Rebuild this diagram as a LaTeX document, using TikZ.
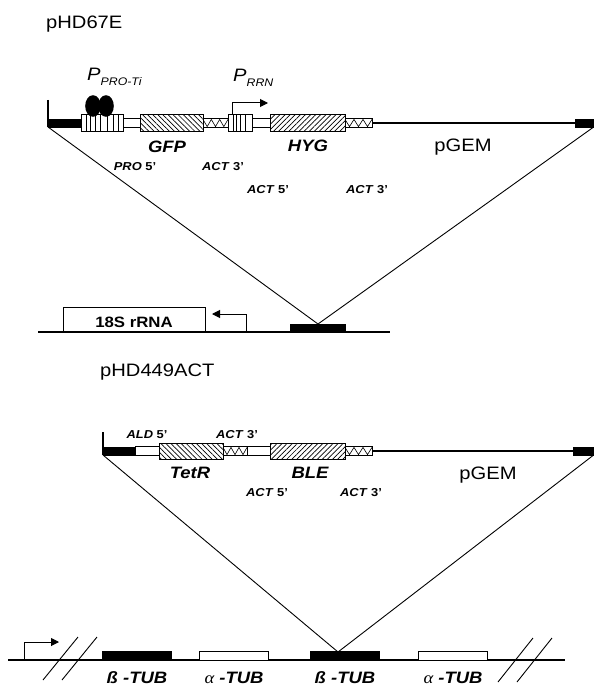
\documentclass[tikz,border=0pt]{standalone}
\usepackage{fontspec}
\setmainfont{Liberation Sans}[FakeStretch=1.12]
\newfontfamily\greekfont{Liberation Serif}[FakeStretch=1.12]
\usetikzlibrary{patterns.meta,arrows.meta}

% a box drawn from a left x to a right x, centred on a given y
\newcommand\segbox[5]{%
  \node[#1, anchor=west, minimum width={(#4)-(#3)}] (#2) at (#3,#5) {};}
% a narrow box with a zigzag inside (3' / 5' flanking regions)
\newcommand\zigbox[4]{%
  \segbox{whitebox}{#1}{#2}{#3}{#4}
  \draw[line width=0.6pt] (#2,#4-3.6)
    \foreach \k in {1,...,6}{ -- ({#2+\k*(#3-#2)/6},{#4+3.6*(2*mod(\k,2)-1)}) };}
% a promoter box with vertical stripes
\newcommand\stripebox[5]{%
  \segbox{promoter}{#1}{#2}{#3}{#4}
  \foreach \s in {#5} \draw[line width=0.8pt] (\s,#4-8) -- (\s,#4+8);}

\begin{document}
\begin{tikzpicture}[x=1pt,y=-1pt,
  dna/.style={line width=1.4pt},
  arm/.style={line width=0.9pt},
  blackbar/.style={draw, fill=black, inner sep=0pt, minimum height=8pt, line width=0.4pt},
  whitebox/.style={draw, fill=white, inner sep=0pt, minimum height=9pt, line width=1pt},
  promoter/.style={draw, fill=white, inner sep=0pt, minimum height=16pt, line width=1pt},
  geneback/.style={draw, inner sep=0pt, minimum height=16pt, line width=1pt,
    preaction={fill=white}, pattern={Lines[angle=-45,distance=3.6pt,line width=0.7pt]}},
  genefore/.style={draw, inner sep=0pt, minimum height=16pt, line width=1pt,
    preaction={fill=white}, pattern={Lines[angle=45,distance=3.6pt,line width=0.7pt]}},
  tubb/.style={draw, fill=black, inner sep=0pt, minimum height=9pt, line width=1pt},
  tuba/.style={draw, fill=white, inner sep=0pt, minimum height=9pt, line width=1pt},
  title/.style={anchor=base west, inner sep=0pt, font=\fontsize{18}{20}\selectfont},
  gene/.style={anchor=base, inner sep=0pt, font=\fontsize{16.5}{18}\selectfont\bfseries\itshape},
  small/.style={anchor=base, inner sep=0pt, font=\fontsize{11.5}{13}\selectfont\bfseries},
  prom/.style={anchor=base west, inner sep=0pt, font=\fontsize{18}{20}\selectfont\itshape},
  tip/.style={-{Triangle[length=8pt,width=8pt]}, line width=1pt},
  brk/.style={line width=0.9pt}
]
\useasboundingbox (0,0) rectangle (595,690);

% ---------------- pHD67E ----------------
\node[title] (t1) at (46,29) {pHD67E};

\coordinate (a0) at (48,100);
\coordinate (a1) at (48,127);
\draw[dna] (a0) -- (a1);
\segbox{blackbar}{aL}{48}{81}{123}
\stripebox{pti}{81}{123}{123}{86,90.5,95,100.5,107.5,113,118}
\fill (93,106) ellipse [x radius=7.8, y radius=10.8];
\fill (106,106) ellipse [x radius=7.8, y radius=10.8];
\segbox{whitebox}{w1}{123}{140}{123}
\segbox{geneback}{gfp}{140}{203}{123}
\zigbox{z1}{203}{228}{123}
\stripebox{prrn}{228}{252}{123}{233.3,236.8,240.7,245}
\segbox{whitebox}{w2}{252}{270}{123}
\segbox{genefore}{hyg}{270}{345}{123}
\zigbox{z2}{345}{372}{123}
\segbox{blackbar}{aR}{575}{593}{123}
\draw[dna] (z2.east) -- (aR.west);

% promoter arrow
\coordinate (r0) at (232,103);
\coordinate (r1) at (268,103);
\draw[tip] (prrn.north west -| r0) -- (r0) -- (r1);

% labels
\node[prom] (lp1) at (87,81) {P\raisebox{-5pt}{\fontsize{11}{12}\selectfont PRO-Ti}};
\node[prom] (lp2) at (233,82) {P\raisebox{-5pt}{\fontsize{11}{12}\selectfont RRN}};
\node[gene] at (167,152) {GFP};
\node[gene] at (308,151) {HYG};
\node[title, anchor=base] at (463,151) {pGEM};
\node[small] at (135,170) {\textit{PRO} 5'};
\node[small] at (223,170) {\textit{ACT} 3'};
\node[small] at (268,193) {\textit{ACT} 5'};
\node[small] at (367,193) {\textit{ACT} 3'};

% 18S rRNA locus
\coordinate (g0) at (38,332);
\coordinate (g1) at (390,332);
\draw[dna] (g0) -- (g1);
\node[draw, fill=white, line width=1pt, inner sep=0pt, minimum width=142pt, minimum height=24pt, anchor=south west] (rrna) at (63,332) {};
\node[anchor=base, inner sep=0pt, font=\fontsize{15}{17}\selectfont\bfseries] at (134,327) {18S rRNA};
\node[blackbar, anchor=south west, minimum width=55pt] (site1) at (290,332) {};
\coordinate (q0) at (246,332);
\coordinate (q1) at (246,314);
\coordinate (q2) at (212,314);
\draw[tip] (q0) -- (q1) -- (q2);
\coordinate (apex1) at (318,324);
\draw[arm] (a1) -- (apex1) -- (aR.south east);

% ---------------- pHD449ACT ----------------
\node[title] (t2) at (100,376) {pHD449ACT};

\coordinate (b0) at (103,432);
\coordinate (b1) at (103,455);
\draw[dna] (b0) -- (b1);
\segbox{blackbar}{bL}{103}{135}{451}
\segbox{whitebox}{w3}{135}{159}{451}
\segbox{geneback}{tetr}{159}{223}{451}
\zigbox{z3}{223}{247}{451}
\segbox{whitebox}{w4}{247}{270}{451}
\segbox{genefore}{ble}{270}{345}{451}
\zigbox{z4}{345}{372}{451}
\segbox{blackbar}{bR}{573}{593}{451}
\draw[dna] (z4.east) -- (bR.west);

\node[small] at (147,438) {\textit{ALD} 5'};
\node[small] at (237,438) {\textit{ACT} 3'};
\node[gene] at (190,478) {TetR};
\node[gene] at (310,478) {BLE};
\node[title, anchor=base] at (488,479) {pGEM};
\node[small] at (267,496) {\textit{ACT} 5'};
\node[small] at (361,496) {\textit{ACT} 3'};

% tubulin locus
\coordinate (h0) at (8,660);
\coordinate (h1) at (565,660);
\draw[dna] (h0) -- (h1);
\coordinate (s0) at (24,660);
\coordinate (s1) at (24,642);
\coordinate (s2) at (59,642);
\draw[tip] (s0) -- (s1) -- (s2);
\draw[brk] (43,680) -- (78,637);
\draw[brk] (62,680) -- (97,637);
\draw[brk] (498,682) -- (533,638);
\draw[brk] (517,682) -- (552,638);
\node[tubb, anchor=south west, minimum width=69pt] (bt1) at (102,661) {};
\node[tuba, anchor=south west, minimum width=69pt] (at1) at (199,661) {};
\node[tubb, anchor=south west, minimum width=69pt] (bt2) at (310,661) {};
\node[tuba, anchor=south west, minimum width=69pt] (at2) at (418,661) {};
\coordinate (lb) at (0,683);
\node[gene] at (bt1.south |- lb) {ß -TUB};
\node[gene] at (at1.south |- lb) {{\greekfont\mdseries\itshape α} -TUB};
\node[gene] at (bt2.south |- lb) {ß -TUB};
\node[gene] at (at2.south |- lb) {{\greekfont\mdseries\itshape α} -TUB};
\coordinate (apex2) at (338,652);
\draw[arm] (b1) -- (apex2) -- (bR.south east);
\end{tikzpicture}
\end{document}
